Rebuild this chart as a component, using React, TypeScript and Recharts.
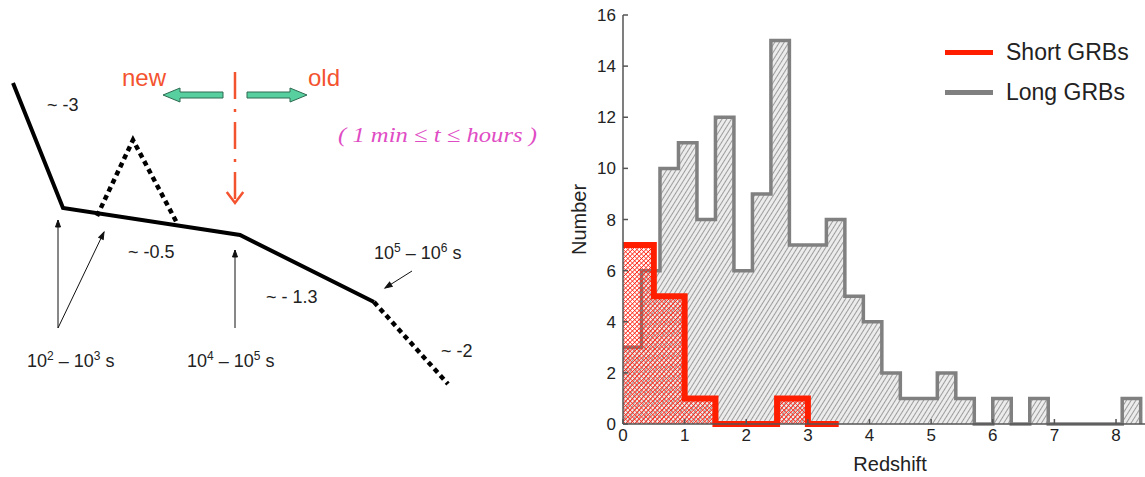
import React from "react";
import {
  Area,
  ComposedChart,
  Legend,
  Line,
  ReferenceDot,
  Scatter,
  XAxis,
  YAxis,
} from "recharts";

// ---------- right panel: redshift distributions ----------
const longBinStart = [
  0, 0.3, 0.6, 0.9, 1.2, 1.5, 1.8, 2.1, 2.4, 2.7, 3.0, 3.3, 3.6, 3.9, 4.2,
  4.5, 4.8, 5.1, 5.4, 5.7, 6.0, 6.3, 6.6, 6.9, 7.2, 7.5, 7.8, 8.1,
];
const longCounts = [
  3, 6, 10, 11, 8, 12, 6, 9, 15, 7, 7, 8, 5, 4, 2, 1, 1, 2, 1, 0, 1, 0, 1, 0,
  0, 0, 0, 1,
];
const LONG_END = 8.4;

const shortBinStart = [0, 0.5, 1.0, 1.5, 2.0, 2.5, 3.0];
const shortCounts = [7, 5, 1, 0, 0, 1, 0];
const SHORT_END = 3.5;

const redshiftTicks = [0, 1, 2, 3, 4, 5, 6, 7, 8];
const numberTicks = [0, 2, 4, 6, 8, 10, 12, 14, 16];
const legendOrder = ["Short GRBs", "Long GRBs"];

// ---------- left panel: schematic X-ray light curve (diagram units) ----------
const lightCurve = [
  { t: 13, f: 83 },
  { t: 63, f: 208 },
  { t: 240, f: 235 },
  { t: 374, f: 302 },
];
const flare = [
  { t: 97, f: 216 },
  { t: 133, f: 140 },
  { t: 177, f: 223 },
];
const jetBreak = [
  { t: 374, f: 302 },
  { t: 448, f: 384 },
];
const breakArrows = [
  [{ t: 58, f: 328 }, { t: 58, f: 220 }],
  [{ t: 58, f: 328 }, { t: 104, f: 232 }],
  [{ t: 235, f: 328 }, { t: 235, f: 250 }],
  [{ t: 412, f: 271 }, { t: 385, f: 288 }],
];
const divider = [
  { t: 235, f: 72 },
  { t: 235, f: 203 },
];
const timeArrows = [
  { t: 223, f: 95, dir: -1 },
  { t: 247, f: 95, dir: 1 },
];
const slopes = ["~ -3", "~ -0.5", "~ - 1.3", "~ -2"];
const breakTimes = [
  ["2", "3"],
  ["4", "5"],
  ["5", "6"],
];

const FONT = '"Liberation Sans", Arial, Helvetica, sans-serif';
const INK = "#222";
const AXIS = "#555";
const LONG_COLOR = "#808080";
const SHORT_COLOR = "#ff1e00";
const ORANGE = "#f4532f";
const PINK = "#e04cc4";

const toSteps = (starts: number[], counts: number[], end: number) => [
  ...starts.map((z, i) => ({ z, n: counts[i] })),
  { z: end, n: 0 },
];

const longSteps = toSteps(longBinStart, longCounts, LONG_END);
const shortSteps = toSteps(shortBinStart, shortCounts, SHORT_END);

// arrow head drawn on the last point of a line
const arrowTip =
  (pts: { t: number; f: number }[], color: string, size: number, open = false) =>
  (props: any) => {
    const { cx, cy, index } = props;
    if (index !== pts.length - 1) return <g key={`d${index}`} />;
    const a = pts[index - 1];
    const b = pts[index];
    const ang = (Math.atan2(b.f - a.f, b.t - a.t) * 180) / Math.PI;
    const d = open
      ? `M${-size},${-size * 0.75} L0,0 L${-size},${size * 0.75}`
      : `M0,0 L${-size},${-size / 2.8} L${-size},${size / 2.8} Z`;
    return (
      <path
        key={`d${index}`}
        d={d}
        transform={`translate(${cx},${cy}) rotate(${ang})`}
        fill={open ? "none" : color}
        stroke={color}
        strokeWidth={open ? 2.5 : 1}
      />
    );
  };

const blockArrow = (props: any) => {
  const { cx, cy, payload } = props;
  const s = payload.dir;
  const pts = [
    [0, -3],
    [43, -3],
    [43, -7],
    [60, 0],
    [43, 7],
    [43, 3],
    [0, 3],
  ]
    .map(([x, y]) => `${cx + s * x},${cy + y}`)
    .join(" ");
  return <polygon points={pts} fill="#58cf9f" stroke="#2e6b52" strokeWidth={1} />;
};

const note = (
  key: string,
  t: number,
  f: number,
  body: React.ReactNode,
  style: Record<string, any> = {}
) => (
  <ReferenceDot
    key={key}
    x={t}
    y={f}
    r={0}
    fill="none"
    stroke="none"
    ifOverflow="visible"
    label={({ viewBox }: any) => (
      <text
        x={viewBox.x}
        y={viewBox.y}
        fontFamily={FONT}
        fontSize={18}
        fill={INK}
        {...style}
      >
        {body}
      </text>
    )}
  />
);

const powerRange = (a: string, b: string) => (
  <>
    10
    <tspan dy={-7} fontSize={12}>
      {a}
    </tspan>
    <tspan dy={7}> – 10</tspan>
    <tspan dy={-7} fontSize={12}>
      {b}
    </tspan>
    <tspan dy={7}> s</tspan>
  </>
);

const Schematic = () => (
  <ComposedChart width={560} height={477} margin={{ top: 0, right: 0, bottom: 0, left: 0 }}>
    <XAxis dataKey="t" type="number" domain={[0, 560]} hide />
    <YAxis dataKey="f" type="number" domain={[0, 477]} reversed hide />
    <Line data={lightCurve} dataKey="f" stroke="#000" strokeWidth={4} dot={false} activeDot={false} isAnimationActive={false} />
    <Line data={flare} dataKey="f" stroke="#000" strokeWidth={4.5} strokeDasharray="5 4" dot={false} activeDot={false} isAnimationActive={false} />
    <Line data={jetBreak} dataKey="f" stroke="#000" strokeWidth={4.5} strokeDasharray="5 4" dot={false} activeDot={false} isAnimationActive={false} />
    {breakArrows.map((pts, i) => (
      <Line
        key={`ba${i}`}
        data={pts}
        dataKey="f"
        stroke="#111"
        strokeWidth={1}
        dot={arrowTip(pts, "#111", 7)}
        activeDot={false}
        isAnimationActive={false}
      />
    ))}
    <Line
      data={divider}
      dataKey="f"
      stroke={ORANGE}
      strokeWidth={2.5}
      strokeDasharray="27 10 3 10"
      dot={arrowTip(divider, ORANGE, 11, true)}
      activeDot={false}
      isAnimationActive={false}
    />
    <Scatter data={timeArrows} shape={blockArrow} activeShape={blockArrow} isAnimationActive={false} />
    {note("s0", 47, 111, slopes[0])}
    {note("s1", 128, 258, slopes[1])}
    {note("s2", 266, 303, slopes[2])}
    {note("s3", 441, 357, slopes[3])}
    {note("b0", 27, 367, powerRange(breakTimes[0][0], breakTimes[0][1]))}
    {note("b1", 187, 367, powerRange(breakTimes[1][0], breakTimes[1][1]))}
    {note("b2", 374, 259, powerRange(breakTimes[2][0], breakTimes[2][1]))}
    {note("new", 122, 86, "new", { fill: ORANGE, fontSize: 24 })}
    {note("old", 308, 86, "old", { fill: ORANGE, fontSize: 24 })}
    {note("win", 338, 142, "( 1 min \u2264 t \u2264  hours )", {
      fill: PINK,
      fontSize: 22,
      fontStyle: "italic",
      fontFamily: '"Liberation Serif", "Times New Roman", serif',
      textLength: 199,
      lengthAdjust: "spacingAndGlyphs",
    })}
  </ComposedChart>
);

const renderLegend = ({ payload }: any) => {
  const items = [...(payload || [])].sort(
    (a: any, b: any) => legendOrder.indexOf(a.value) - legendOrder.indexOf(b.value)
  );
  return (
    <div style={{ fontFamily: FONT }}>
      {items.map((e: any) => (
        <div key={e.value} style={{ display: "flex", alignItems: "center", height: 40 }}>
          <span style={{ display: "inline-block", width: 48, height: 5, background: e.color, marginRight: 13 }} />
          <span style={{ fontSize: 23, color: INK, lineHeight: "40px" }}>{e.value}</span>
        </div>
      ))}
    </div>
  );
};

const Histogram = () => (
  <ComposedChart width={585} height={477} margin={{ top: 15, right: 0, bottom: 0, left: 0 }}>
    <defs>
      <pattern id="longHatch" patternUnits="userSpaceOnUse" width="4" height="4" patternTransform="rotate(32)">
        <rect width="4" height="4" fill="#ececec" />
        <line x1="0" y1="0" x2="0" y2="4" stroke="#666" strokeWidth="1.2" />
      </pattern>
      <pattern id="shortHatch" patternUnits="userSpaceOnUse" width="3.2" height="3.2" patternTransform="rotate(45)">
        <line x1="0" y1="0" x2="0" y2="3.2" stroke="#ff2414" strokeWidth="1.6" />
        <line x1="0" y1="0" x2="3.2" y2="0" stroke="#ff2414" strokeWidth="1.3" />
      </pattern>
    </defs>
    <XAxis
      dataKey="z"
      type="number"
      domain={[0, 8.47]}
      ticks={redshiftTicks}
      height={53}
      tickSize={-5}
      tickMargin={10}
      stroke={AXIS}
      strokeWidth={1.5}
      tick={{ fill: INK, fontSize: 17, fontFamily: FONT }}
      label={({ viewBox }: any) => (
        <text
          x={viewBox.x + viewBox.width / 2 + 6}
          y={471}
          textAnchor="middle"
          fontFamily={FONT}
          fontSize={20}
          fill={INK}
        >
          Redshift
        </text>
      )}
    />
    <XAxis
      xAxisId="top"
      orientation="top"
      type="number"
      domain={[0, 8.47]}
      ticks={redshiftTicks}
      height={0}
      tickSize={-5}
      tick={false}
      stroke={AXIS}
      strokeWidth={1.5}
    />
    <YAxis
      dataKey="n"
      type="number"
      domain={[0, 16]}
      ticks={numberTicks}
      width={63}
      tickSize={-5}
      tickMargin={12}
      stroke={AXIS}
      strokeWidth={1.5}
      tick={{ fill: INK, fontSize: 17, fontFamily: FONT }}
      label={({ viewBox }: any) => {
        const cx = viewBox.x + 19;
        const cy = viewBox.y + viewBox.height / 2;
        return (
          <text
            x={cx}
            y={cy}
            transform={`rotate(-90, ${cx}, ${cy})`}
            textAnchor="middle"
            dominantBaseline="central"
            fontFamily={FONT}
            fontSize={20}
            fill={INK}
          >
            Number
          </text>
        );
      }}
    />
    <Area
      name="Long GRBs"
      data={longSteps}
      dataKey="n"
      type="stepAfter"
      stroke={LONG_COLOR}
      strokeWidth={3.5}
      fill="url(#longHatch)"
      fillOpacity={1}
      activeDot={false}
      isAnimationActive={false}
    />
    <Area
      name="Short GRBs"
      data={shortSteps}
      dataKey="n"
      type="stepAfter"
      stroke={SHORT_COLOR}
      strokeWidth={6}
      fill="url(#shortHatch)"
      fillOpacity={1}
      activeDot={false}
      isAnimationActive={false}
    />
    <Legend
      layout="vertical"
      align="center"
      verticalAlign="middle"
      content={renderLegend}
      wrapperStyle={{ top: 32, left: 385, width: 200 }}
    />
  </ComposedChart>
);

export default function App() {
  return (
    <div
      style={{
        position: "absolute",
        left: 0,
        top: 0,
        width: 1145,
        height: 477,
        overflow: "hidden",
        background: "#fff",
        fontFamily: FONT,
      }}
    >
      <div style={{ position: "absolute", left: 0, top: 0 }}>
        <Schematic />
      </div>
      <div style={{ position: "absolute", left: 560, top: 0 }}>
        <Histogram />
      </div>
    </div>
  );
}
